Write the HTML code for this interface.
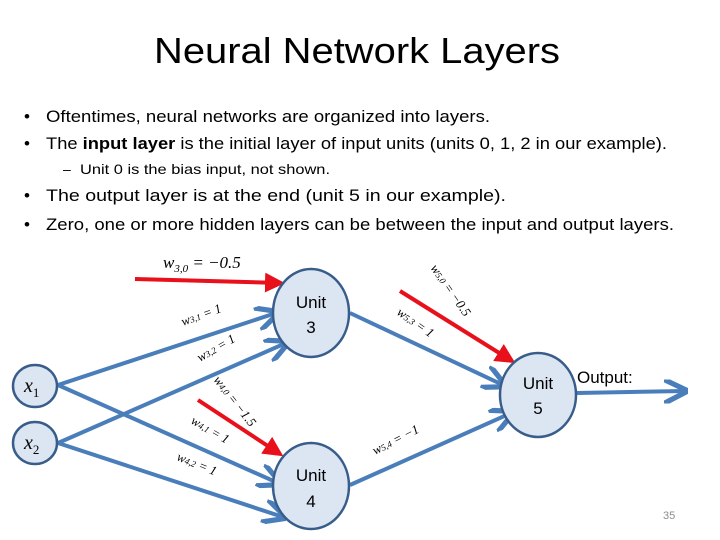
<!DOCTYPE html>
<html><head><meta charset="utf-8"><style>
html,body{margin:0;padding:0;background:#fff;width:720px;height:540px;overflow:hidden}
svg{display:block;font-family:"Liberation Sans",sans-serif}
</style></head><body>
<svg width="720" height="540" viewBox="0 0 720 540" xmlns="http://www.w3.org/2000/svg">
<defs>
<marker id="ab" markerWidth="6" markerHeight="6" refX="5" refY="3" orient="auto" markerUnits="strokeWidth"><path d="M0,0 L6,3 L0,6" fill="none" stroke="#4a7ebb" stroke-width="1.3"/></marker>
<marker id="ar" markerWidth="5" markerHeight="5" refX="4" refY="2.5" orient="auto" markerUnits="strokeWidth"><path d="M0,0 L5,2.5 L0,5 Z" fill="#e8101a"/></marker>
</defs>
<text x="154" y="63" font-size="36" textLength="406" lengthAdjust="spacingAndGlyphs" fill="#000">Neural Network Layers</text>
<g font-size="17" fill="#000">
<text x="24" y="122">•</text><text x="46" y="122" textLength="444" lengthAdjust="spacingAndGlyphs">Oftentimes, neural networks are organized into layers.</text>
<text x="24" y="149">•</text><text x="46" y="149" textLength="621" lengthAdjust="spacingAndGlyphs">The <tspan font-weight="bold">input layer</tspan> is the initial layer of input units (units 0, 1, 2 in our example).</text>
<text x="63" y="174" font-size="14">–</text><text x="80" y="174" font-size="14" textLength="250" lengthAdjust="spacingAndGlyphs">Unit 0 is the bias input, not shown.</text>
<text x="24" y="201">•</text><text x="46" y="201" textLength="460" lengthAdjust="spacingAndGlyphs">The output layer is at the end (unit 5 in our example).</text>
<text x="24" y="230">•</text><text x="46" y="230" textLength="628" lengthAdjust="spacingAndGlyphs">Zero, one or more hidden layers can be between the input and output layers.</text>
</g>
<g stroke="#4a7ebb" stroke-width="4" fill="none" marker-end="url(#ab)">
<line x1="58" y1="385" x2="276" y2="313"/>
<line x1="58" y1="385" x2="278" y2="483"/>
<line x1="58" y1="443" x2="286" y2="343"/>
<line x1="58" y1="443" x2="283" y2="517"/>
<line x1="350" y1="313" x2="503" y2="385"/>
<line x1="350" y1="485" x2="511" y2="413"/>
<line x1="577" y1="393" x2="684" y2="391"/>
</g>
<g stroke="#e8101a" stroke-width="4" fill="none" marker-end="url(#ar)">
<line x1="135" y1="279" x2="281" y2="283"/>
<line x1="198" y1="400" x2="280" y2="454"/>
<line x1="400" y1="291" x2="512" y2="361"/>
</g>
<g fill="#dce6f2" stroke="#385d8a" stroke-width="2.5">
<ellipse cx="35" cy="386" rx="22" ry="21"/>
<ellipse cx="35" cy="443" rx="22" ry="21"/>
<ellipse cx="311" cy="313" rx="38" ry="44"/>
<ellipse cx="311" cy="486" rx="38" ry="43"/>
<ellipse cx="538" cy="395" rx="38" ry="42"/>
</g>
<g font-size="17" fill="#000" text-anchor="middle">
<text x="311" y="308">Unit</text><text x="311" y="333">3</text>
<text x="311" y="481">Unit</text><text x="311" y="507">4</text>
<text x="538" y="389">Unit</text><text x="538" y="414">5</text>
</g>
<text x="577" y="383" font-size="17">Output:</text>
<g font-family="Liberation Serif,serif" font-style="italic" font-size="20" fill="#000">
<text x="24" y="392">x<tspan font-size="13" dy="5" font-style="normal">1</tspan></text>
<text x="24" y="449">x<tspan font-size="13" dy="5" font-style="normal">2</tspan></text>
<text x="163" y="268" font-size="17">w<tspan font-size="11" dy="4">3,0</tspan><tspan dy="-4"> = −0.5</tspan></text>
</g>
<g font-family="Liberation Serif,serif" font-style="italic" font-size="13" fill="#000">
<text transform="translate(183,326) rotate(-20)">w<tspan font-size="9">3,1</tspan> = 1</text>
<text transform="translate(200,362) rotate(-30)">w<tspan font-size="9">3,2</tspan> = 1</text>
<text transform="translate(213,380) rotate(52)">w<tspan font-size="9">4,0</tspan> = −1.5</text>
<text transform="translate(190,423) rotate(30)">w<tspan font-size="9">4,1</tspan> = 1</text>
<text transform="translate(176,460) rotate(22)">w<tspan font-size="9">4,2</tspan> = 1</text>
<text transform="translate(430,268) rotate(55)">w<tspan font-size="9">5,0</tspan> = −0.5</text>
<text transform="translate(396,314) rotate(35)">w<tspan font-size="9">5,3</tspan> = 1</text>
<text transform="translate(375,455) rotate(-27)">w<tspan font-size="9">5,4</tspan> = −1</text>
</g>
<text x="663" y="519" font-size="11" fill="#8c8c8c">35</text>
</svg>
</body></html>
